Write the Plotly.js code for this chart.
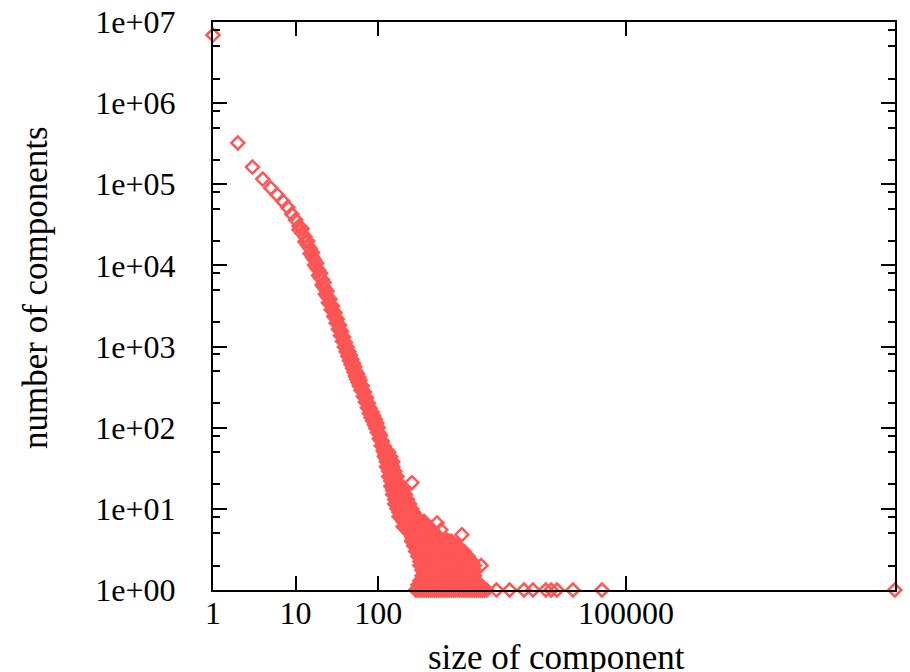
<!DOCTYPE html>
<html>
<head>
<meta charset="utf-8">
<script src="https://cdn.plot.ly/plotly-3.0.1.min.js"></script>
<style>html,body{margin:0;padding:0;background:#fff;}#chart{width:910px;height:672px;}</style>
</head>
<body>
<div id="chart"></div>
<script>
// Upper band: one count per component size
const bandSizes = [1,2,3,4,5,6,7,8,9,10,
  11,12,13,14,15,16,17,18,19,20,21,22,23,24,25,26,27,28,29,30,
  31,32,33,34,35,36,37,38,39,40,41,42,43,44,45,46,47,48,49,50,
  51,52,53,54,55,56,57,58,59,60,62,64,66,68,70,72,74,76,78,80,
  82,84,86,88,90,92,94,96,98,100,103,106,109,112,115,118,121,124,127,130];
const bandCounts = [6900000,323000,163000,116000,90000,74000,62000,52000,43000,36500,
  30600,25000,22600,17600,16200,12600,11700,9300,8700,7000,6700,5400,5100,4200,4000,3350,3250,2780,2680,2300,
  2240,1920,1880,1610,1570,1350,1330,1150,1140,990,990,870,870,765,770,690,690,610,620,550,
  558,500,503,473,455,410,416,372,380,340,332,290,280,243,238,207,203,176,173,153,
  154,138,138,124,125,112,113,101,100,88,84,71,69,60,60,52,53,46,47,41];

// Second reading of the same sizes (the band is thick)
const band2Sizes = [11,12,13,14,15,16,17,18,19,20,21,22,23,24,25,26,27,28,29,30,
  31,32,33,34,35,36,37,38,39,40,41,42,43,44,45,46,47,48,49,50,
  51,52,53,54,55,56,57,58,59,60,62,64,66,68,70,72,74,76,78,80,
  82,84,86,88,90,92,94,96,98,100,103,106,109,112,115,118,121,124,127,130];
const band2Counts = [27500,28300,19600,20000,14000,14400,10100,10600,7500,8000,5750,6140,4410,4810,3480,3830,2840,3150,2340,2610,
  1950,2180,1640,1830,1370,1530,1160,1310,990,1120,862,987,760,868,671,780,601,694,540,625,
  486,564,438,420,396,464,363,421,330,386,290,328,244,275,208,234,176,199,151,174,
  134,156,121,140,109,127,98,114,87,100,73,80,60,68,52,59,46,53,41,46];

// Lower, noisy part of the distribution: one list of sizes per count level
const rowCounts = [50,44,38,33,29,25,22,19,17,15,13,11.5,10,9,8,7,6,5.5,5,4.5,4,3.5,3,2.6,2.25,2,1.75,1.5,1.3,1.15,1];
const rowSizes = [
  [119,126,134],
  [119,126,134,142],
  [126,134,142,150],
  [126,134,142,150],
  [134,142,150,159],
  [134,142,150,159,169],
  [142,150,159,169],
  [142,150,159,169,179,190],
  [150,159,169,179,190,201],
  [150,159,169,179,190,201,213],
  [159,169,179,190,201,213,226],
  [159,169,179,190,201,213,226,240],
  [169,179,190,201,213,226,240,254],
  [179,190,201,213,226,240,254,269],
  [179,190,201,213,226,240,254,269,285],
  [201,213,226,240,254,269,285,302,320,340,360],
  [201,213,226,240,254,269,285,302,320,340,360,382],
  [226,240,254,269,285,302,320,340,360,382,405,429,455],
  [240,254,269,285,302,320,340,360,382,405,429,455,482],
  [254,269,285,302,320,340,360,382,405,429,455,482,511,542],
  [254,269,285,302,320,340,360,382,405,429,455,482,511,542,574,609,645,684,725,769],
  [269,285,302,320,340,360,382,405,429,455,482,511,542,574,609,645,684,725,769,815,864,915],
  [285,302,320,340,360,382,405,429,455,482,511,542,574,609,645,684,725,769,815,864,915,970,1030,1090],
  [302,320,340,360,382,405,429,455,482,511,542,574,609,645,684,725,769,815,864,915,970,1030,1090,1155,1225],
  [320,340,360,382,405,429,455,482,511,542,574,609,645,684,725,769,815,864,915,970,1030,1090,1155,1225,1300,1375],
  [320,340,360,382,405,429,455,482,511,542,574,609,645,684,725,769,815,864,915,970,1030,1090,1155,1225,1300,1375,1460,1760],
  [340,360,382,405,429,455,482,511,542,574,609,645,684,725,769,815,864,915,970,1030,1090,1155,1225,1300,1375,1460],
  [340,360,382,405,429,455,482,511,542,574,609,645,684,725,769,815,864,915,970,1030,1090,1155,1225,1300,1375,1460],
  [320,340,360,382,405,429,455,482,511,542,574,609,645,684,725,769,815,864,915,970,1030,1090,1155,1225,1300,1375,1460,1545],
  [302,320,340,360,382,405,429,455,482,511,542,574,609,645,684,725,769,815,864,915,970,1030,1090,1155,1225,1300,1375,1460,1545,1640,1740],
  [285,302,320,340,360,382,405,429,455,482,511,542,574,609,645,684,725,769,815,864,915,970,1030,1090,1155,1225,1300,1375,1460,1545,1640,1740,1840,1950,2050,
   2700,3900,5820,7480,10700,12400,14600,22800,51200,180000000]
];

// Isolated outliers above the dense region
const outlierSizes = [256,515,575,680,1030];
const outlierCounts = [21,6.7,5.5,4.1,4.8];

const xTickVals = [1,10,100,100000];
const xTickText = ['1','10','100','100000'];
const yTickVals = [1,10,100,1000,10000,100000,1000000,10000000];
const yTickText = ['1e+00','1e+01','1e+02','1e+03','1e+04','1e+05','1e+06','1e+07'];
const yMinorVals = [];
for (const d of [1,10,100,1000,10000,100000,1000000]) { yMinorVals.push(2*d, 5*d, 8*d); }

let xs = bandSizes.concat(band2Sizes), ys = bandCounts.concat(band2Counts);
rowSizes.forEach((row, i) => { row.forEach(s => { xs.push(s); ys.push(rowCounts[i]); }); });
xs = xs.concat(outlierSizes); ys = ys.concat(outlierCounts);

const red = 'rgb(255,85,85)';
const fontFam = '"Liberation Serif", "Times New Roman", serif';

const trace = {
  x: xs, y: ys, type: 'scatter', mode: 'markers', cliponaxis: false,
  marker: {symbol: 'diamond-open', size: 10, color: red, line: {color: red, width: 2.5}},
  hoverinfo: 'x+y'
};

const layout = {
  width: 910, height: 672,
  margin: {l: 213, r: 15, t: 22, b: 82},
  paper_bgcolor: '#fff', plot_bgcolor: '#fff',
  showlegend: false,
  font: {family: fontFam, color: '#000', size: 32},
  xaxis: {
    type: 'log', range: [0, 8.257],
    tickmode: 'array', tickvals: xTickVals, ticktext: xTickText,
    ticks: 'inside', ticklen: 14, tickwidth: 2, tickcolor: '#000',
    showline: true, linewidth: 2, linecolor: '#000', mirror: 'ticks',
    showgrid: false, zeroline: false,
    tickfont: {family: fontFam, size: 32, color: '#000'},
    ticklabelstandoff: -6
  },
  yaxis: {
    type: 'log', range: [0, 7],
    tickmode: 'array', tickvals: yTickVals, ticktext: yTickText,
    ticks: 'inside', ticklen: 14, tickwidth: 2, tickcolor: '#000',
    minor: {tickmode: 'array', tickvals: yMinorVals, ticks: 'inside', ticklen: 7, tickwidth: 2, tickcolor: '#000', showgrid: false},
    showline: true, linewidth: 2, linecolor: '#000', mirror: 'ticks',
    showgrid: false, zeroline: false,
    tickfont: {family: fontFam, size: 32, color: '#000'},
    ticklabelstandoff: 29
  },
  annotations: [
    {text: 'size of component', xref: 'paper', yref: 'paper', x: 0.504, y: -0.118,
     xanchor: 'center', yanchor: 'middle', showarrow: false,
     font: {family: fontFam, size: 35, color: '#000'}},
    {text: 'number of components', xref: 'paper', yref: 'paper', x: -0.2595, y: 0.5317,
     xanchor: 'center', yanchor: 'middle', showarrow: false, textangle: -90,
     font: {family: fontFam, size: 35, color: '#000'}}
  ]
};

Plotly.newPlot('chart', [trace], layout, {displayModeBar: false, staticPlot: true});
</script>
</body>
</html>
